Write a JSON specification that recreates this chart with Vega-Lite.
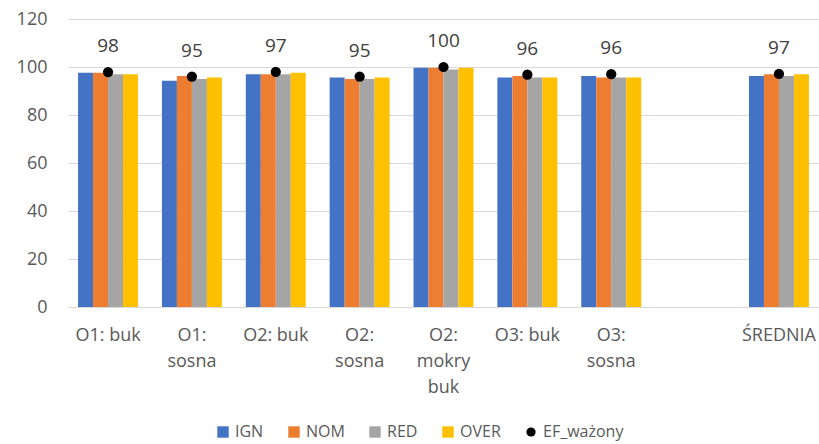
{
  "$schema": "https://vega.github.io/schema/vega-lite/v6.json",
  "width": 751,
  "height": 288,
  "autosize": {"type": "none"},
  "padding": {"left": 68, "top": 19, "right": 0, "bottom": 137},
  "background": "white",
  "config": {
    "view": {"stroke": null},
    "font": "Open Sans",
    "axis": {"labelFont": "Open Sans", "labelColor": "#595959", "labelFontSize": 18},
    "legend": {"labelFont": "Open Sans", "labelColor": "#595959", "labelFontSize": 16}
  },
  "datasets": {
    "bars": [
      {"cat": "O1: buk", "series": "IGN", "value": 97.6},
      {"cat": "O1: buk", "series": "NOM", "value": 97.6},
      {"cat": "O1: buk", "series": "RED", "value": 97.0},
      {"cat": "O1: buk", "series": "OVER", "value": 97.0},
      {"cat": "O1: sosna", "series": "IGN", "value": 94.3},
      {"cat": "O1: sosna", "series": "NOM", "value": 96.2},
      {"cat": "O1: sosna", "series": "RED", "value": 95.0},
      {"cat": "O1: sosna", "series": "OVER", "value": 95.6},
      {"cat": "O2: buk", "series": "IGN", "value": 97.0},
      {"cat": "O2: buk", "series": "NOM", "value": 97.0},
      {"cat": "O2: buk", "series": "RED", "value": 97.0},
      {"cat": "O2: buk", "series": "OVER", "value": 97.6},
      {"cat": "O2: sosna", "series": "IGN", "value": 95.6},
      {"cat": "O2: sosna", "series": "NOM", "value": 95.0},
      {"cat": "O2: sosna", "series": "RED", "value": 95.0},
      {"cat": "O2: sosna", "series": "OVER", "value": 95.6},
      {"cat": "O2: mokry buk", "series": "IGN", "value": 99.7},
      {"cat": "O2: mokry buk", "series": "NOM", "value": 99.7},
      {"cat": "O2: mokry buk", "series": "RED", "value": 99.0},
      {"cat": "O2: mokry buk", "series": "OVER", "value": 99.7},
      {"cat": "O3: buk", "series": "IGN", "value": 95.6},
      {"cat": "O3: buk", "series": "NOM", "value": 96.2},
      {"cat": "O3: buk", "series": "RED", "value": 95.6},
      {"cat": "O3: buk", "series": "OVER", "value": 95.6},
      {"cat": "O3: sosna", "series": "IGN", "value": 96.3},
      {"cat": "O3: sosna", "series": "NOM", "value": 95.6},
      {"cat": "O3: sosna", "series": "RED", "value": 95.6},
      {"cat": "O3: sosna", "series": "OVER", "value": 95.6},
      {"cat": "ŚREDNIA", "series": "IGN", "value": 96.2},
      {"cat": "ŚREDNIA", "series": "NOM", "value": 97.0},
      {"cat": "ŚREDNIA", "series": "RED", "value": 96.2},
      {"cat": "ŚREDNIA", "series": "OVER", "value": 97.0}
    ],
    "ef": [
      {"cat": "O1: buk", "ef": 97.9, "label": "98"},
      {"cat": "O1: sosna", "ef": 96.0, "label": "95"},
      {"cat": "O2: buk", "ef": 98.0, "label": "97"},
      {"cat": "O2: sosna", "ef": 96.0, "label": "95"},
      {"cat": "O2: mokry buk", "ef": 100.0, "label": "100"},
      {"cat": "O3: buk", "ef": 96.8, "label": "96"},
      {"cat": "O3: sosna", "ef": 97.0, "label": "96"},
      {"cat": "ŚREDNIA", "ef": 97.1, "label": "97"}
    ]
  },
  "encoding": {
    "x": {
      "field": "cat",
      "type": "nominal",
      "scale": {
        "domain": ["O1: buk", "O1: sosna", "O2: buk", "O2: sosna", "O2: mokry buk", "O3: buk", "O3: sosna", "", "ŚREDNIA"],
        "paddingInner": 0.285,
        "paddingOuter": 0.12
      },
      "axis": {
        "title": null,
        "labelAngle": 0,
        "ticks": false,
        "domainColor": "#d9d9d9",
        "domainWidth": 1,
        "labelPadding": 19,
        "labelLineHeight": 26,
        "labelExpr": "datum.value == 'O1: sosna' ? ['O1:', 'sosna'] : datum.value == 'O2: sosna' ? ['O2:', 'sosna'] : datum.value == 'O3: sosna' ? ['O3:', 'sosna'] : datum.value == 'O2: mokry buk' ? ['O2:', 'mokry', 'buk'] : datum.value"
      }
    }
  },
  "layer": [
    {
      "data": {"name": "bars"},
      "mark": {"type": "bar"},
      "encoding": {
        "xOffset": {"field": "series", "type": "nominal", "scale": {"domain": ["IGN", "NOM", "RED", "OVER"], "paddingInner": 0, "paddingOuter": 0}},
        "y": {
          "field": "value",
          "type": "quantitative",
          "scale": {"domain": [0, 120]},
          "axis": {
            "title": null,
            "values": [0, 20, 40, 60, 80, 100, 120],
            "domain": false,
            "ticks": false,
            "gridColor": "#d9d9d9",
            "labelPadding": 21
          }
        },
        "color": {
          "field": "series",
          "type": "nominal",
          "scale": {
            "domain": ["IGN", "NOM", "RED", "OVER", "EF_ważony"],
            "range": ["#4472C4", "#ED7D31", "#A5A5A5", "#FFC000", "#000000"]
          },
          "legend": {
            "title": null,
            "orient": "none",
            "direction": "horizontal",
            "legendX": 147,
            "legendY": 405,
            "columnPadding": 22,
            "symbolSize": 130,
            "labelOffset": 4,
            "symbolStrokeWidth": 0,
            "encode": {
              "symbols": {
                "update": {
                  "shape": {"signal": "datum.value == 'EF_ważony' ? 'circle' : 'square'"},
                  "size": {"signal": "datum.value == 'EF_ważony' ? 85 : 130"}
                }
              }
            }
          }
        }
      }
    },
    {
      "data": {"name": "ef"},
      "mark": {"type": "point", "filled": true, "size": 105, "opacity": 1},
      "encoding": {
        "y": {"field": "ef", "type": "quantitative"},
        "color": {"datum": "EF_ważony"}
      }
    },
    {
      "data": {"name": "ef"},
      "mark": {"type": "text", "dy": -26, "baseline": "middle", "fontSize": 19, "color": "#404040"},
      "encoding": {
        "y": {"field": "ef", "type": "quantitative"},
        "text": {"field": "label"}
      }
    }
  ]
}
